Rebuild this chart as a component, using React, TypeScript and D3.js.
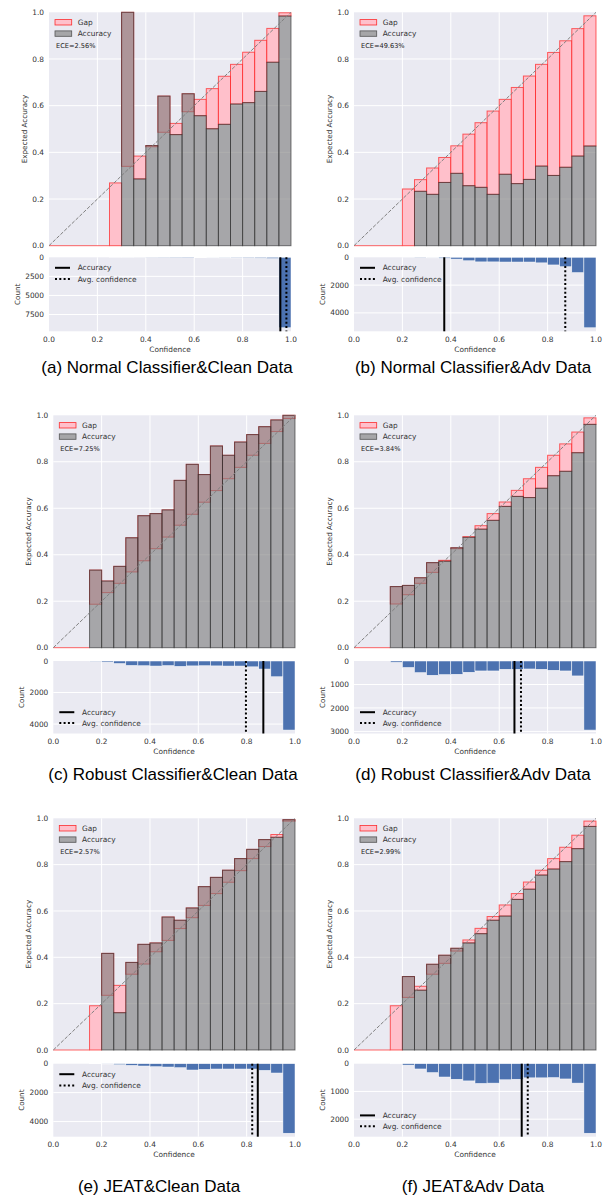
import React from "react";
import * as d3 from "d3";

// ---------- data ----------
const BIN_WIDTH = 0.05;
const captions = [
  "(a) Normal Classifier&Clean Data",
  "(b) Normal Classifier&Adv Data",
  "(c) Robust Classifier&Clean Data",
  "(d) Robust Classifier&Adv Data",
  "(e) JEAT&Clean Data",
  "(f) JEAT&Adv Data",
];
const eceLabels = ["ECE=2.56%", "ECE=49.63%", "ECE=7.25%", "ECE=3.84%", "ECE=2.57%", "ECE=2.99%"];
const binStarts = [0.25, 0.2, 0.15, 0.15, 0.15, 0.15];

const accA = [0, 1.0, 0.286, 0.429, 0.641, 0.476, 0.651, 0.557, 0.501, 0.52, 0.607, 0.613, 0.661, 0.786, 0.984];
const confA = [0.269, 0.34, 0.384, 0.424, 0.486, 0.524, 0.574, 0.627, 0.673, 0.726, 0.777, 0.829, 0.88, 0.931, 0.998];
const countA = [2, 3, 8, 25, 35, 45, 55, 60, 70, 80, 90, 100, 110, 160, 9240];

const accB = [0, 0.233, 0.22, 0.271, 0.31, 0.257, 0.25, 0.22, 0.306, 0.266, 0.284, 0.341, 0.301, 0.336, 0.384, 0.427];
const confB = [0.243, 0.283, 0.333, 0.378, 0.428, 0.478, 0.527, 0.577, 0.627, 0.678, 0.727, 0.777, 0.828, 0.878, 0.93, 0.985];
const countB = [5, 20, 40, 70, 130, 250, 330, 330, 340, 340, 340, 400, 550, 680, 1100, 5070];

const accC = [0.334, 0.287, 0.35, 0.473, 0.568, 0.577, 0.593, 0.72, 0.789, 0.745, 0.868, 0.828, 0.885, 0.917, 0.951, 0.98, 1.0];
const confC = [0.187, 0.237, 0.277, 0.326, 0.374, 0.426, 0.476, 0.527, 0.574, 0.626, 0.676, 0.727, 0.776, 0.828, 0.879, 0.93, 0.986];
const countC = [20, 70, 160, 280, 300, 320, 290, 340, 310, 300, 310, 320, 320, 370, 510, 1000, 4380];

const accD = [0.263, 0.268, 0.301, 0.366, 0.372, 0.43, 0.475, 0.51, 0.548, 0.608, 0.651, 0.646, 0.686, 0.74, 0.759, 0.839, 0.961];
const confD = [0.188, 0.228, 0.277, 0.324, 0.376, 0.426, 0.478, 0.525, 0.577, 0.627, 0.677, 0.727, 0.776, 0.828, 0.877, 0.928, 0.989];
const countD = [57, 275, 495, 608, 580, 566, 480, 424, 424, 353, 353, 340, 353, 396, 424, 636, 2942];

const accE = [0, 0.417, 0.161, 0.378, 0.456, 0.462, 0.574, 0.56, 0.613, 0.705, 0.745, 0.776, 0.826, 0.866, 0.908, 0.918, 0.994];
const confE = [0.191, 0.236, 0.279, 0.327, 0.371, 0.424, 0.473, 0.524, 0.571, 0.624, 0.675, 0.724, 0.774, 0.826, 0.878, 0.93, 0.988];
const countE = [5, 20, 69, 115, 161, 207, 230, 276, 437, 391, 368, 368, 368, 368, 460, 644, 4805];

const accF = [0, 0.317, 0.258, 0.37, 0.409, 0.439, 0.462, 0.502, 0.56, 0.578, 0.65, 0.694, 0.755, 0.781, 0.813, 0.869, 0.965];
const confF = [0.191, 0.227, 0.275, 0.327, 0.374, 0.427, 0.475, 0.525, 0.576, 0.626, 0.675, 0.725, 0.776, 0.826, 0.875, 0.927, 0.988];
const countF = [5, 50, 190, 320, 480, 560, 620, 710, 700, 580, 560, 510, 510, 500, 550, 700, 2506];

const overallAcc = [0.956, 0.373, 0.869, 0.663, 0.846, 0.693];
const avgConf = [0.981, 0.873, 0.797, 0.69, 0.823, 0.718];

const accSeries = [accA, accB, accC, accD, accE, accF];
const confSeries = [confA, confB, confC, confD, confE, confF];
const countSeries = [countA, countB, countC, countD, countE, countF];

const topYTicks = [0, 0.2, 0.4, 0.6, 0.8, 1.0];
const xTicks = [0, 0.2, 0.4, 0.6, 0.8, 1.0];
const countTicks = [
  [0, 2500, 5000, 7500],
  [0, 2000, 4000],
  [0, 2000, 4000],
  [0, 1000, 2000, 3000],
  [0, 2000, 4000],
  [0, 1000, 2000],
];
const countLegendPos = ["upper", "upper", "lower", "lower", "upper", "lower"];

// ---------- layout ----------
const LAYOUT = [
  { x0: 49, x1: 291, t0: 12.3, t1: 245.7, c0: 257.3, c1: 331.3, capX: 167, capY: 372.7 },
  { x0: 354, x1: 596, t0: 12.3, t1: 245.7, c0: 257.3, c1: 331.3, capX: 473, capY: 372.7 },
  { x0: 53.3, x1: 295, t0: 415.3, t1: 647.7, c0: 661, c1: 733.5, capX: 173, capY: 780 },
  { x0: 354, x1: 596, t0: 415.3, t1: 647.7, c0: 661, c1: 733.5, capX: 473, capY: 780 },
  { x0: 53.3, x1: 295, t0: 818.3, t1: 1050, c0: 1063.7, c1: 1136.7, capX: 159, capY: 1191.7 },
  { x0: 354, x1: 596, t0: 818.3, t1: 1050, c0: 1063.7, c1: 1136.7, capX: 473, capY: 1191.7 },
];

const BG = "#EAEAF2";
const PINK = "#ffc0cb";
const RED = "rgba(255,0,0,0.6)";
const GRAY_FILL = "rgba(120,120,120,0.6)";
const GRAY_EDGE = "rgba(40,40,40,0.6)";
const BLUE = "#4C72B0";
const TXT = "#333";
const FONT = "DejaVu Sans, sans-serif";

function Panel({ i }: { i: number }) {
  const L = LAYOUT[i];
  const acc = accSeries[i];
  const conf = confSeries[i];
  const counts = countSeries[i];
  const start = binStarts[i];
  const x = d3.scaleLinear().domain([0, 1]).range([L.x0, L.x1]);
  const y = d3.scaleLinear().domain([0, 1]).range([L.t1, L.t0]);
  const cMax = (d3.max(counts) as number) * 1.05;
  const yc = d3.scaleLinear().domain([0, cMax]).range([L.c0, L.c1]);
  const bins = acc.map((a, k) => ({
    lo: start + k * BIN_WIDTH,
    hi: start + (k + 1) * BIN_WIDTH,
    acc: a,
    conf: conf[k],
    count: counts[k],
  }));
  const fs = 7.4;
  const legY = countLegendPos[i] === "upper" ? [L.c0 + 10.5, L.c0 + 21.7] : [L.c1 - 21.3, L.c1 - 10.5];
  const diag = d3.line<number>().x((d) => x(d)).y((d) => y(d));
  return (
    <g>
      {/* Top reliability plot */}
      <rect x={L.x0} y={L.t0} width={L.x1 - L.x0} height={L.t1 - L.t0} fill={BG} />
      {xTicks.slice(1, -1).map((t) => (
        <line key={"gx" + t} x1={x(t)} x2={x(t)} y1={L.t0} y2={L.t1} stroke="#fff" strokeWidth={1} />
      ))}
      {topYTicks.slice(1, -1).map((t) => (
        <line key={"gy" + t} x1={L.x0} x2={L.x1} y1={y(t)} y2={y(t)} stroke="#fff" strokeWidth={1} />
      ))}
      {/* empty bins as zero-height gap bars */}
      <line x1={x(0)} x2={x(start)} y1={y(0)} y2={y(0)} stroke={RED} strokeWidth={1} />
      {bins.map((b, k) => (
        <rect
          key={"gap" + k}
          x={x(b.lo)}
          width={x(b.hi) - x(b.lo)}
          y={y(Math.max(b.acc, b.conf))}
          height={Math.abs(y(b.acc) - y(b.conf))}
          fill={PINK}
          stroke={RED}
          strokeWidth={1}
        />
      ))}
      {bins.map((b, k) => (
        <rect
          key={"acc" + k}
          x={x(b.lo)}
          width={x(b.hi) - x(b.lo)}
          y={y(b.acc)}
          height={y(0) - y(b.acc)}
          fill={GRAY_FILL}
          stroke={GRAY_EDGE}
          strokeWidth={1}
        />
      ))}
      <path d={diag([0, 1]) || ""} stroke="#808080" strokeWidth={1} strokeDasharray="3.7,1.6" fill="none" />
      {topYTicks.map((t) => (
        <text key={"ty" + t} x={L.x0 - 5} y={y(t)} dy="0.35em" textAnchor="end" fontSize={fs} fill={TXT} fontFamily={FONT}>
          {t.toFixed(1)}
        </text>
      ))}
      <text
        transform={`translate(${L.x0 - 24.5},${(L.t0 + L.t1) / 2}) rotate(-90)`}
        textAnchor="middle"
        dy="0.35em"
        fontSize={7.2}
        fill={TXT}
        fontFamily={FONT}
      >
        Expected Accuracy
      </text>
      {/* legend */}
      <rect x={L.x0 + 6} y={L.t0 + 7.3} width={16.7} height={5.4} fill={PINK} stroke="rgba(255,0,0,0.8)" strokeWidth={0.8} />
      <text x={L.x0 + 28.7} y={L.t0 + 10} dy="0.35em" fontSize={fs} fill={TXT} fontFamily={FONT}>Gap</text>
      <rect x={L.x0 + 6} y={L.t0 + 18.6} width={16.7} height={5.4} fill="#a6a6a8" stroke="#555" strokeWidth={0.8} />
      <text x={L.x0 + 28.7} y={L.t0 + 21.3} dy="0.35em" fontSize={fs} fill={TXT} fontFamily={FONT}>Accuracy</text>
      <text x={L.x0 + 7} y={L.t0 + 33} dy="0.35em" fontSize={6.6} fill="#222" fontFamily={FONT}>{eceLabels[i]}</text>

      {/* Count histogram */}
      <rect x={L.x0} y={L.c0} width={L.x1 - L.x0} height={L.c1 - L.c0} fill={BG} />
      {xTicks.slice(1, -1).map((t) => (
        <line key={"cgx" + t} x1={x(t)} x2={x(t)} y1={L.c0} y2={L.c1} stroke="#fff" strokeWidth={1} />
      ))}
      {countTicks[i].slice(1).map((t) => (
        <line key={"cgy" + t} x1={L.x0} x2={L.x1} y1={yc(t)} y2={yc(t)} stroke="#fff" strokeWidth={1} />
      ))}
      {bins.map((b, k) => (
        <rect
          key={"cnt" + k}
          x={x(b.lo)}
          width={x(b.hi) - x(b.lo)}
          y={yc(0)}
          height={yc(b.count) - yc(0)}
          fill={BLUE}
          stroke="#fff"
          strokeWidth={0.5}
        />
      ))}
      <line x1={x(overallAcc[i])} x2={x(overallAcc[i])} y1={L.c0} y2={L.c1} stroke="#000" strokeWidth={2} />
      <line x1={x(avgConf[i])} x2={x(avgConf[i])} y1={L.c0} y2={L.c1} stroke="#000" strokeWidth={2} strokeDasharray="2,2.3" />
      {countTicks[i].map((t) => (
        <text key={"cy" + t} x={L.x0 - 5} y={yc(t)} dy="0.35em" textAnchor="end" fontSize={fs} fill={TXT} fontFamily={FONT}>
          {d3.format("d")(t)}
        </text>
      ))}
      {xTicks.map((t) => (
        <text key={"cx" + t} x={x(t)} y={L.c1 + 8} dy="0.35em" textAnchor="middle" fontSize={fs} fill={TXT} fontFamily={FONT}>
          {t.toFixed(1)}
        </text>
      ))}
      <text x={(L.x0 + L.x1) / 2} y={L.c1 + 18} dy="0.35em" textAnchor="middle" fontSize={fs} fill={TXT} fontFamily={FONT}>
        Confidence
      </text>
      <text
        transform={`translate(${L.x0 - 32},${(L.c0 + L.c1) / 2}) rotate(-90)`}
        textAnchor="middle"
        dy="0.35em"
        fontSize={7.2}
        fill={TXT}
        fontFamily={FONT}
      >
        Count
      </text>
      <line x1={L.x0 + 6} x2={L.x0 + 21} y1={legY[0]} y2={legY[0]} stroke="#000" strokeWidth={2} />
      <text x={L.x0 + 28.7} y={legY[0]} dy="0.35em" fontSize={fs} fill={TXT} fontFamily={FONT}>Accuracy</text>
      <line x1={L.x0 + 6} x2={L.x0 + 21} y1={legY[1]} y2={legY[1]} stroke="#000" strokeWidth={2} strokeDasharray="2,2.3" />
      <text x={L.x0 + 28.7} y={legY[1]} dy="0.35em" fontSize={fs} fill={TXT} fontFamily={FONT}>Avg. confidence</text>

      {/* caption */}
      <text x={L.capX} y={L.capY} textAnchor="middle" fontSize={17} fill="#000" fontFamily="Liberation Sans, Arial, sans-serif">
        {captions[i]}
      </text>
    </g>
  );
}

export default function App() {
  return (
    <svg
      width={609}
      height={1197}
      style={{ position: "absolute", left: 0, top: 0, background: "#fff" }}
      xmlns="http://www.w3.org/2000/svg"
    >
      <rect width={609} height={1197} fill="#fff" />
      {captions.map((_, i) => (
        <Panel key={i} i={i} />
      ))}
    </svg>
  );
}
